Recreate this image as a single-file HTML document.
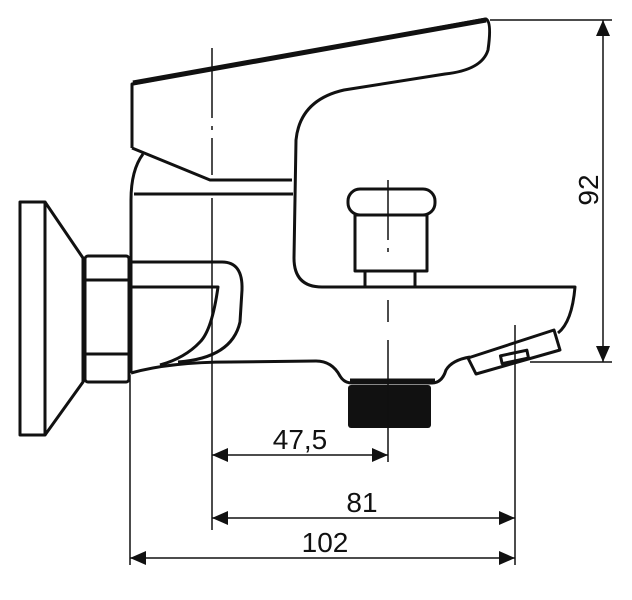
<!DOCTYPE html>
<html><head><style>html,body{margin:0;padding:0;background:#fff}svg{display:block}</style></head><body>
<svg width="632" height="600" viewBox="0 0 632 600" xmlns="http://www.w3.org/2000/svg">
<g fill="none" stroke="#111" stroke-width="3" stroke-linejoin="round">
<rect x="20" y="202" width="25" height="233"/>
<path d="M45 202 L83 258 L83 382 L45 435"/>
<rect x="85" y="256" width="44" height="126" rx="3"/>
<line x1="86" y1="280" x2="128" y2="280"/>
<line x1="86" y1="354" x2="128" y2="354"/>
<path d="M132 148 L132 84 L486 19 Q492 22 488 50 Q482 70 445 74 L344 90 Q300 100 296 140 L294 258 Q294 287 322 287 L575 287 Q572 322 558 333"/>
<line x1="133" y1="83" x2="486" y2="20" stroke-width="5"/>
<path d="M132 148 L210 180 L292 180"/>
<line x1="134" y1="194" x2="293" y2="194"/>
<path d="M143 154 Q131 170 131 200 L131 373"/>
<path d="M130 262 L222 262 Q243 262 242 290 L240 322 Q232 358 178 362"/>
<path d="M130 287 L218 287 Q212 330 200 342 Q185 358 160 365"/>
<path d="M131 373 Q170 362 230 362 L316 361 Q332 361 340 376 Q344 383 352 383 L432 383 Q442 383 446 370 Q452 360 470 357"/>
<line x1="350" y1="381" x2="435" y2="381" stroke-width="5"/>
<path d="M468 358 L554 330 L560 350 L476 374 Z"/>
<rect x="501" y="353" width="27" height="8" transform="rotate(-12 514 357)"/>
<rect x="348" y="189" width="87" height="26" rx="12"/>
<rect x="355" y="215" width="72" height="56"/>
<rect x="365" y="271" width="50" height="16"/>
</g>
<rect x="348" y="385" width="83" height="43" rx="3" fill="#111"/>
<g stroke="#111" stroke-width="1.5" fill="none">
<line x1="212" y1="48" x2="212" y2="175" stroke-dasharray="70 8 4 8"/>
<line x1="212" y1="198" x2="212" y2="530"/>
<line x1="388" y1="180" x2="388" y2="252" stroke-dasharray="60 8"/>
<line x1="388" y1="300" x2="388" y2="322"/>
<line x1="388" y1="340" x2="388" y2="462"/>
<line x1="515" y1="325" x2="515" y2="565"/>
<line x1="130" y1="375" x2="130" y2="565"/>
<line x1="212" y1="455" x2="388" y2="455"/>
<line x1="212" y1="518" x2="515" y2="518"/>
<line x1="130" y1="558" x2="515" y2="558"/>
<line x1="490" y1="20" x2="612" y2="20"/>
<line x1="530" y1="362" x2="612" y2="362"/>
<line x1="603" y1="20" x2="603" y2="362"/>
</g>
<g fill="#111">
<path d="M212 455 l16 -7 v14z"/><path d="M388 455 l-16 -7 v14z"/>
<path d="M212 518 l16 -7 v14z"/><path d="M515 518 l-16 -7 v14z"/>
<path d="M130 558 l16 -7 v14z"/><path d="M515 558 l-16 -7 v14z"/>
<path d="M603 20 l-7 16 h14z"/><path d="M603 362 l-7 -16 h14z"/>
</g>
<g font-family="Liberation Sans, sans-serif" font-size="28" fill="#111" text-anchor="middle">
<text x="300" y="449">47,5</text>
<text x="362" y="512">81</text>
<text x="325" y="552">102</text>
<text transform="translate(598 190) rotate(-90)">92</text>
</g>
</svg>
</body></html>
